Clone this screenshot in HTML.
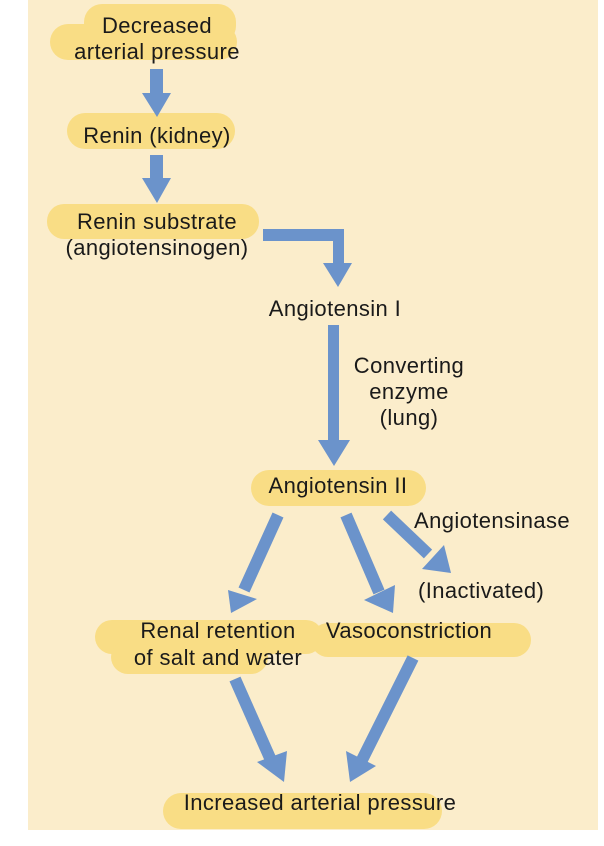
<!DOCTYPE html>
<html><head><style>
html,body{margin:0;padding:0;background:#fff;}
svg{display:block;}
text{font-family:"Liberation Sans",sans-serif;font-size:22px;letter-spacing:0.4px;fill:#1a1a1a;}
</style></head><body>
<svg width="604" height="846" viewBox="0 0 604 846" xmlns="http://www.w3.org/2000/svg">
<rect x="28" y="0" width="570" height="830" fill="#fbedcb"/>
<g fill="#f9dd85">
<rect x="84" y="4" width="152" height="40" rx="18"/>
<rect x="50" y="24" width="187" height="36" rx="18"/>
<rect x="67" y="113" width="168" height="36" rx="18"/>
<rect x="47" y="204" width="212" height="35" rx="17"/>
<rect x="251" y="470" width="175" height="36" rx="18"/>
<rect x="95" y="620" width="228" height="34" rx="17"/>
<rect x="111" y="640" width="157" height="34" rx="17"/>
<rect x="311" y="623" width="220" height="34" rx="17"/>
<rect x="163" y="793" width="279" height="36" rx="18"/>
</g>
<g fill="#6b93cb">
<polygon points="150,69 163,69 163,93 171,93 157,117 142,93 150,93"/>
<polygon points="150,155 163,155 163,178 171,178 157,203 142,178 150,178"/>
<polygon points="263,229 344,229 344,263 352,263 338,287 323,263 333,263 333,241 263,241"/>
<polygon points="328,325 339,325 339,440 350,440 334,466 318,440 328,440"/>
</g>
<g stroke="#6b93cb" stroke-width="12" fill="none">
<line x1="278" y1="515" x2="244" y2="590"/>
<line x1="346" y1="515" x2="379" y2="592"/>
<line x1="387" y1="515" x2="428" y2="554"/>
<line x1="235" y1="679" x2="270" y2="758"/>
<line x1="413" y1="658" x2="362" y2="760"/>
</g>
<g fill="#6b93cb">
<polygon points="231,613 228,590 257,599"/>
<polygon points="393,613 364,600 395,585"/>
<polygon points="451,573 422,569 444,545"/>
<polygon points="284,782 257,762 287,751"/>
<polygon points="350,782 346,751 376,766"/>
</g>
<g text-anchor="middle">
<text x="157" y="33">Decreased</text>
<text x="157" y="59">arterial pressure</text>
<text x="157" y="143">Renin (kidney)</text>
<text x="157" y="229">Renin substrate</text>
<text x="157" y="255">(angiotensinogen)</text>
<text x="335" y="316">Angiotensin I</text>
<text x="409" y="373">Converting</text>
<text x="409" y="399">enzyme</text>
<text x="409" y="425">(lung)</text>
<text x="338" y="493">Angiotensin II</text>
<text x="218" y="638">Renal retention</text>
<text x="218" y="665">of salt and water</text>
<text x="409" y="638">Vasoconstriction</text>
<text x="320" y="810">Increased arterial pressure</text>
</g>
<text x="414" y="528">Angiotensinase</text>
<text x="418" y="598">(Inactivated)</text>
</svg>
</body></html>
